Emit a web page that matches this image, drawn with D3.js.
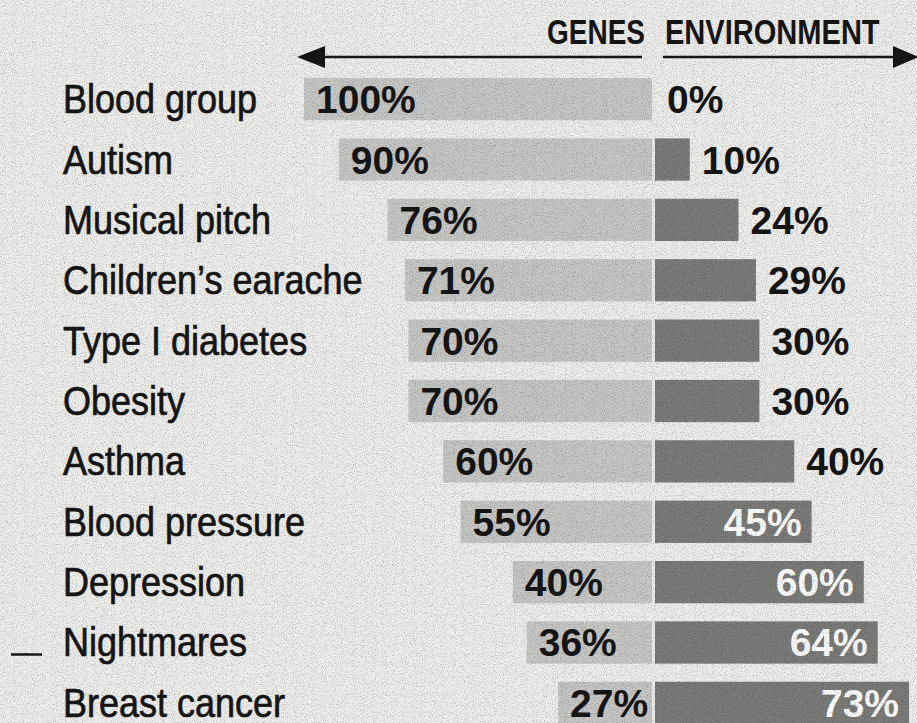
<!DOCTYPE html>
<html>
<head>
<meta charset="utf-8">
<script src="https://cdn.jsdelivr.net/npm/d3@7"></script>
<style>
  html, body { margin: 0; padding: 0; background: #ededeb; }
  svg { display: block; }
</style>
</head>
<body>
<div id="chart"></div>
<script>
const width = 917;
const height = 723;

// data
const traits = ["Blood group", "Autism", "Musical pitch", "Children\u2019s earache",
  "Type I diabetes", "Obesity", "Asthma", "Blood pressure", "Depression",
  "Nightmares", "Breast cancer"];
const genes = [100, 90, 76, 71, 70, 70, 60, 55, 40, 36, 27];
const environment = [0, 10, 24, 29, 30, 30, 40, 45, 60, 64, 73];
const headers = ["GENES", "ENVIRONMENT"];

const svg = d3.select("#chart").append("svg")
    .attr("width", width)
    .attr("height", height);

// newsprint grain
const defs = svg.append("defs");
const grain = defs.append("filter").attr("id", "grain")
    .attr("x", 0).attr("y", 0).attr("width", "100%").attr("height", "100%");
grain.append("feTurbulence")
    .attr("type", "fractalNoise")
    .attr("baseFrequency", 0.9)
    .attr("numOctaves", 2)
    .attr("seed", 3);
grain.append("feColorMatrix")
    .attr("type", "matrix")
    .attr("values", "0 0 0 0 0  0 0 0 0 0  0 0 0 0 0  0 0 0 -3.4 1.75");

svg.append("rect")
    .attr("width", width)
    .attr("height", height)
    .attr("fill", "#ededeb");

// genes grow to the left from the middle, environment to the right
const xGenes = d3.scaleLinear().domain([0, 100]).range([652, 304]);
const xEnv = d3.scaleLinear().domain([0, 100]).range([655, 1003]);
const y = d3.scaleBand().domain(traits).range([78, 724]).paddingInner(0.3).paddingOuter(0);

const font = "'Liberation Sans', Arial, sans-serif";
const ink = "#161616";

// header (condensed by squeezing)
svg.append("text")
    .attr("transform", "translate(645,44) scale(0.8,1)")
    .attr("text-anchor", "end")
    .attr("font-family", font)
    .attr("font-weight", "bold")
    .attr("font-size", 35)
    .attr("fill", ink)
    .text(headers[0]);

svg.append("text")
    .attr("transform", "translate(665,44) scale(0.83,1)")
    .attr("font-family", font)
    .attr("font-weight", "bold")
    .attr("font-size", 35)
    .attr("fill", ink)
    .text(headers[1]);

// arrows
const ay = 57;
svg.append("line")
    .attr("x1", 320).attr("x2", 642)
    .attr("y1", ay).attr("y2", ay)
    .attr("stroke", ink).attr("stroke-width", 2.5);
svg.append("path")
    .attr("d", "M297," + ay + "L325," + (ay - 11) + "L325," + (ay + 11) + "Z")
    .attr("fill", ink);
svg.append("line")
    .attr("x1", 663).attr("x2", 900)
    .attr("y1", ay).attr("y2", ay)
    .attr("stroke", ink).attr("stroke-width", 2.5);
svg.append("path")
    .attr("d", "M919," + ay + "L893," + (ay - 11) + "L893," + (ay + 11) + "Z")
    .attr("fill", ink);

const rows = svg.selectAll("g.row")
    .data(traits.map(function(t, i) {
        return { trait: t, g: genes[i], e: environment[i] };
    }))
    .enter()
    .append("g")
    .attr("class", "row");

const mid = function(d) { return y(d.trait) + y.bandwidth() / 2; };

rows.append("text")
    .attr("transform", function(d) { return "translate(63," + (mid(d) + 14) + ") scale(0.9,1)"; })
    .attr("font-family", font)
    .attr("font-size", 40)
    .attr("fill", ink)
    .attr("stroke", ink)
    .attr("stroke-width", 0.7)
    .text(function(d) { return d.trait; });

rows.append("rect")
    .attr("x", function(d) { return xGenes(d.g); })
    .attr("y", function(d) { return y(d.trait); })
    .attr("width", function(d) { return xGenes(0) - xGenes(d.g); })
    .attr("height", y.bandwidth())
    .attr("fill", "#c6c6c4");

rows.append("rect")
    .attr("x", xEnv(0))
    .attr("y", function(d) { return y(d.trait); })
    .attr("width", function(d) { return xEnv(d.e) - xEnv(0); })
    .attr("height", y.bandwidth())
    .attr("fill", "#7b7b79");

rows.append("text")
    .attr("x", function(d) { return xGenes(d.g) + 12; })
    .attr("y", function(d) { return mid(d) + 14; })
    .attr("font-family", font)
    .attr("font-weight", "bold")
    .attr("font-size", 39)
    .attr("fill", ink)
    .text(function(d) { return d.g + "%"; });

rows.append("text")
    .attr("x", function(d) { return d.e >= 45 ? xEnv(d.e) - 10 : xEnv(d.e) + 12; })
    .attr("y", function(d) { return mid(d) + 14; })
    .attr("text-anchor", function(d) { return d.e >= 45 ? "end" : "start"; })
    .attr("font-family", font)
    .attr("font-weight", "bold")
    .attr("font-size", 39)
    .attr("fill", function(d) { return d.e >= 45 ? "#ffffff" : ink; })
    .text(function(d) { return d.e + "%"; });

// stray print mark left of "Nightmares"
svg.append("line")
    .attr("x1", 11).attr("x2", 42)
    .attr("y1", mid({ trait: "Nightmares" }) + 12)
    .attr("y2", mid({ trait: "Nightmares" }) + 12)
    .attr("stroke", ink).attr("stroke-width", 2.5);

// grain over everything
svg.append("rect")
    .attr("width", width)
    .attr("height", height)
    .attr("filter", "url(#grain)")
    .attr("opacity", 0.2)
    .style("pointer-events", "none");
</script>
</body>
</html>
